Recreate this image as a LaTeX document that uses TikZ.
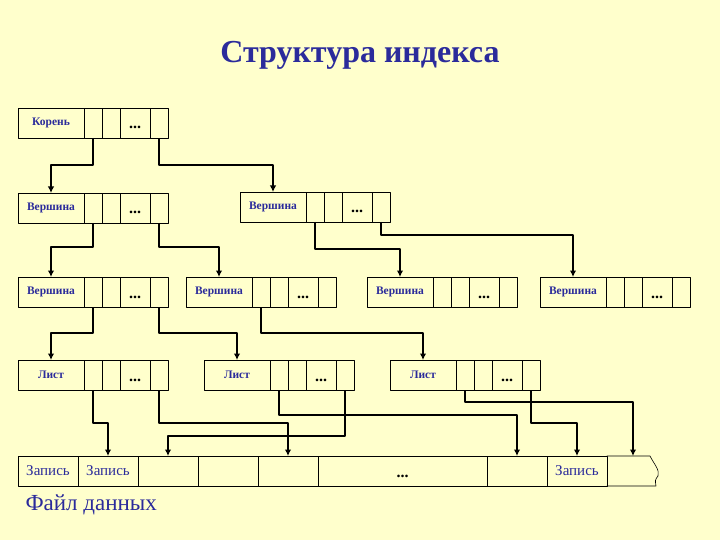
\documentclass[tikz,border=0pt]{standalone}
\usepackage{fontspec}
\setmainfont{Liberation Serif}
\usetikzlibrary{positioning,arrows.meta}
\definecolor{ink}{HTML}{2B2B9B}
\definecolor{paper}{HTML}{FFFFCC}

\begin{document}
\begin{tikzpicture}[x=1pt, y=-1pt, line cap=round, line join=round,
  box/.style={draw, line width=0.6pt, inner sep=0pt, outer sep=0pt, minimum height=30pt},
  lab/.style={box, minimum width=66pt, text=ink, font=\fontsize{11.5}{12}\selectfont\bfseries},
  cell/.style={box, minimum width=18pt},
  dots/.style={box, minimum width=30pt, font=\fontsize{16}{17}\selectfont\bfseries, text height=12pt, text depth=0pt},
  rec/.style={box, minimum width=60pt, text=ink, font=\fontsize{15}{16}\selectfont},
  link/.style={line width=2.2pt, line cap=butt, -{Latex[length=6.5pt,width=6.5pt]}}]
\fill[paper] (0,0) rectangle (720,540);
\useasboundingbox (0,0) rectangle (720,540);

\node[text=ink, font=\fontsize{32}{34}\selectfont\bfseries] (title) at (360,55) {Структура индекса};

% index records: name / left / top / text
\foreach \nm/\xx/\yy/\lb in {root/18/108/Корень, v1/18/193/Вершина, v2/240/192/Вершина,
    v3/18/277/Вершина, v4/186/277/Вершина, v5/367/277/Вершина, v6/540/277/Вершина,
    l1/18/360/Лист, l2/204/360/Лист, l3/390/360/Лист} {
  \node[lab, anchor=north west] (\nm) at (\xx,\yy) {\lb};
  \node[cell, right=0pt of \nm] (\nm-1) {};
  \node[cell, right=0pt of \nm-1] (\nm-2) {};
  \node[dots, right=0pt of \nm-2] (\nm-3) {...};
  \node[cell, right=0pt of \nm-3] (\nm-4) {};
}

% data file
\node[rec, anchor=north west] (f1) at (18,456) {Запись};
\node[rec, right=0pt of f1] (f2) {Запись};
\node[rec, right=0pt of f2] (f3) {};
\node[rec, right=0pt of f3] (f4) {};
\node[rec, right=0pt of f4] (f5) {};
\node[rec, right=0pt of f5, minimum width=169pt, font=\fontsize{16}{17}\selectfont\bfseries,
  text=black, text height=13pt, text depth=0pt] (f6) {...};
\node[rec, right=0pt of f6] (f7) {};
\node[rec, right=0pt of f7] (f8) {Запись};
\draw[line width=0.6pt] (f8.north east) -- (650,456) .. controls (654,464) and (660,470) .. (658,476)
  .. controls (655,480) .. (656,486) -- (f8.south east);
\coordinate (f9) at (633,456);
\node[text=ink, font=\fontsize{23}{26}\selectfont, anchor=west] (file) at (22,505) {Файл данных};

\draw[link] (root-1.south) -- ++(0,27) -| (v1.north);
\draw[link] (root-4.south) -- ++(0,27) -| (v2.north);
\draw[link] (v1-1.south) -- ++(0,24) -| (v3.north);
\draw[link] (v1-4.south) -- ++(0,24) -| (v4.north);
\draw[link] (v2-1.south) -- ++(0,27) -| (v5.north);
\draw[link] (v2-4.south) -- ++(0,13) -| (v6.north);
\draw[link] (v3-1.south) -- ++(0,26) -| (l1.north);
\draw[link] (v3-4.south) -- ++(0,26) -| (l2.north);
\draw[link] (v4-1.south) -- ++(0,26) -| (l3.north);
\draw[link] (l1-1.south) -- ++(0,33) -| (f2.north);
\draw[link] (l1-4.south) -- ++(0,33) -| (f5.north);
\draw[link] (l2-1.south) -- ++(0,25) -| (f7.north);
\draw[link] (l2-4.south) -- ++(0,46) -| (f3.north);
\draw[link] (l3-1.south) -- ++(0,12) -| (f9);
\draw[link] (l3-4.south) -- ++(0,33) -| (f8.north);
\end{tikzpicture}
\end{document}
